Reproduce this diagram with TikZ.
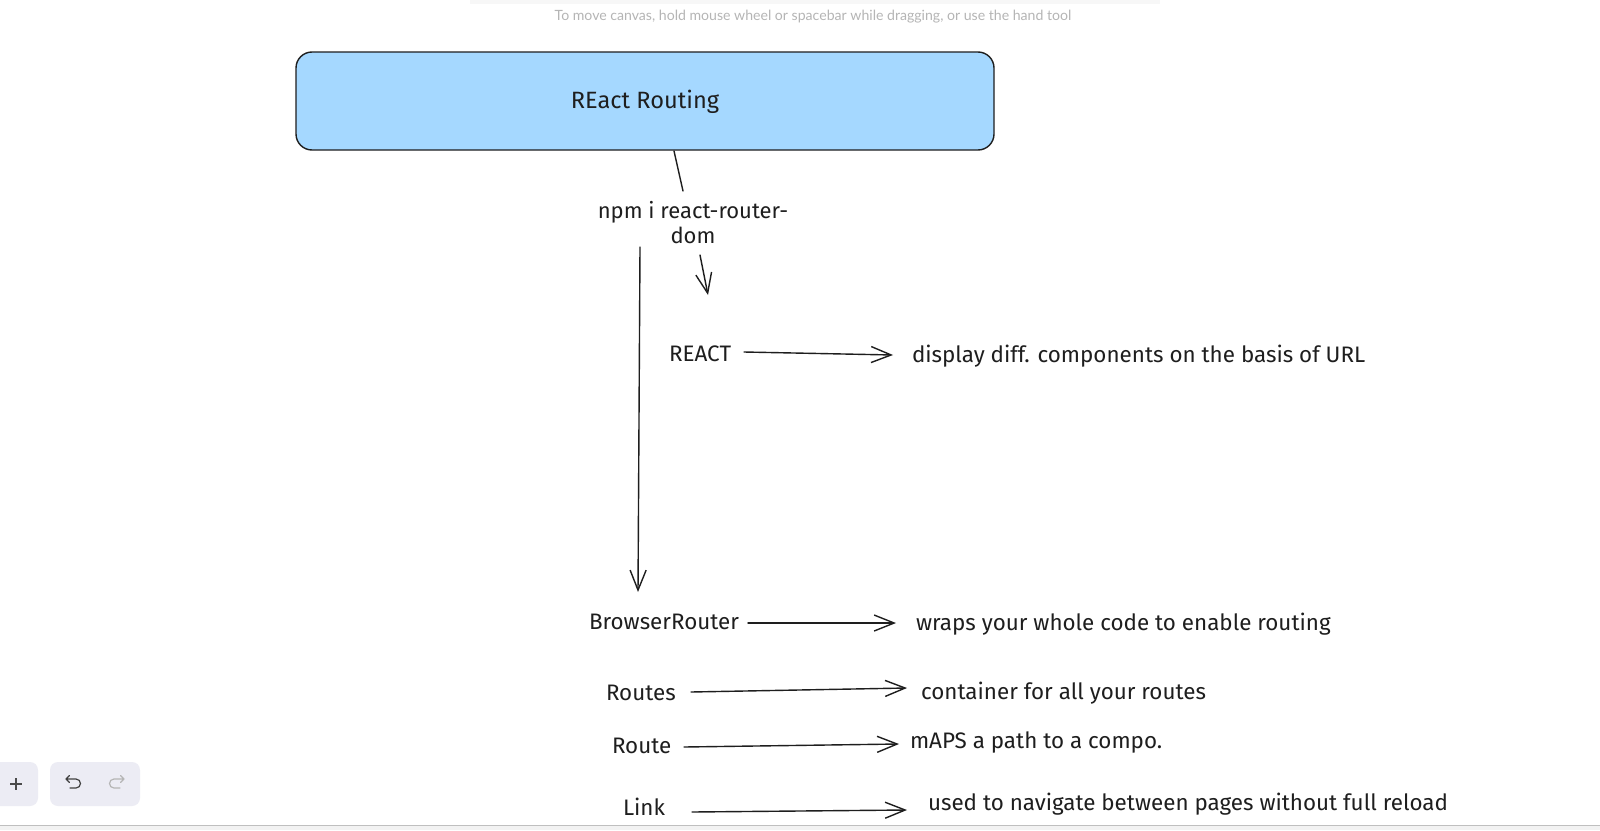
\documentclass[tikz,border=0pt]{standalone}
\usepackage{fontspec}
\usetikzlibrary{arrows.meta}
\newfontfamily\hand{Fira Sans}
\newfontfamily\uifont{Lato}
\definecolor{ink}{HTML}{1E1E1E}
\definecolor{boxblue}{HTML}{A5D8FF}
\definecolor{hintgray}{HTML}{B5B5B5}
\definecolor{tbgray}{HTML}{ECECF4}
\begin{document}
\begin{tikzpicture}[x=0.5pt,y=-0.5pt,
  every node/.style={inner sep=0pt,outer sep=0pt},
  lbl/.style={font=\hand\fontsize{11.2}{12.5}\selectfont, anchor=mid west, text=ink},
  ln/.style={draw=ink, line width=0.7pt, line cap=round},
  arr/.style={ln, -{Straight Barb[length=10pt,width=8pt,line width=0.7pt]}},
  tb/.style={fill=tbgray, rounded corners=4pt}]
\useasboundingbox (0,0) rectangle (1600,830);
\fill[white] (0,0) rectangle (1600,830);
% faint toolbar shadow at top
\fill[black!3] (470,0) rectangle (1160,4);
% hint text
\node[font=\uifont\fontsize{7.05}{9}\selectfont, text=hintgray] (hint) at (813,17) {To move canvas, hold mouse wheel or spacebar while dragging, or use the hand tool};
% title box
\node[draw=ink, fill=boxblue, rounded corners=8pt, line width=0.7pt, minimum width=349pt, minimum height=49pt,
      font=\hand\fontsize{11.8}{13}\selectfont, text=ink] (title) at (645,101) {};
\node[font=\hand\fontsize{11.8}{13}\selectfont, text=ink] (ttext) at (645,102) {REact Routing};
% npm text
\node[font=\hand\fontsize{11}{12.5}\selectfont, text=ink, align=center] (npm) at (693,223) {npm i react-router-\\dom};
% left column labels
\node[lbl] (react) at (669,357) {REACT};
\node[lbl] (browser) at (589,625) {BrowserRouter};
\node[lbl] (routes) at (606,696) {Routes};
\node[lbl] (route) at (612,749) {Route};
\node[lbl] (link) at (623,811) {Link};
% right column descriptions
\node[lbl] (dreact) at (912,358) {display diff. components on the basis of URL};
\node[lbl] (dbrowser) at (916,626) {wraps your whole code to enable routing};
\node[lbl] (droutes) at (921,695) {container for all your routes};
\node[lbl] (droute) at (910,744) {mAPS a path to a compo.};
\node[lbl] (dlink) at (928,806) {used to navigate between pages without full reload};
% connector end points
\coordinate (t1) at (674,151);
\coordinate (n1) at (683,191);
\coordinate (n2) at (700,255);
\coordinate (n3) at (708,295);
\coordinate (v1) at (640,247);
\coordinate (v2) at (638,592);
\coordinate (r1) at (744,352);
\coordinate (r2) at (893,355);
\coordinate (b1) at (748,623);
\coordinate (b2) at (896,623);
\coordinate (s1) at (691,692);
\coordinate (s2) at (907,688);
\coordinate (o1) at (684,747);
\coordinate (o2) at (899,744);
\coordinate (l1) at (692,812);
\coordinate (l2) at (907,810);
% connectors
\draw[ln] (t1) -- (n1);
\draw[arr] (n2) -- (n3);
\draw[arr] (v1) -- (v2);
\draw[arr] (r1) -- (r2);
\draw[arr] (b1) -- (b2);
\draw[arr] (s1) -- (s2);
\draw[arr] (o1) -- (o2);
\draw[arr] (l1) -- (l2);
% bottom toolbar
\fill[tb] (-10,762) rectangle (38,806);
\fill[tb] (50,762) rectangle (140,806);
\draw[ink!80, line width=0.6pt] (10,784) -- (22,784) (16,778) -- (16,790);
\draw[ink!85, line width=0.6pt, line cap=round, line join=round]
  (66,779) -- (76,779) arc[start angle=-90, end angle=90, radius=4.5] -- (70,788)
  (69.5,775.5) -- (66,779) -- (69.5,782.5);
\draw[hintgray, line width=0.6pt, line cap=round, line join=round]
  (124,779) -- (114,779) arc[start angle=270, end angle=90, radius=4.5] -- (120,788)
  (120.5,775.5) -- (124,779) -- (120.5,782.5);
% bottom edge
\fill[black!5] (0,825) rectangle (1600,830);
\draw[black!25, line width=0.4pt] (0,825) -- (1600,825);
\end{tikzpicture}
\end{document}
